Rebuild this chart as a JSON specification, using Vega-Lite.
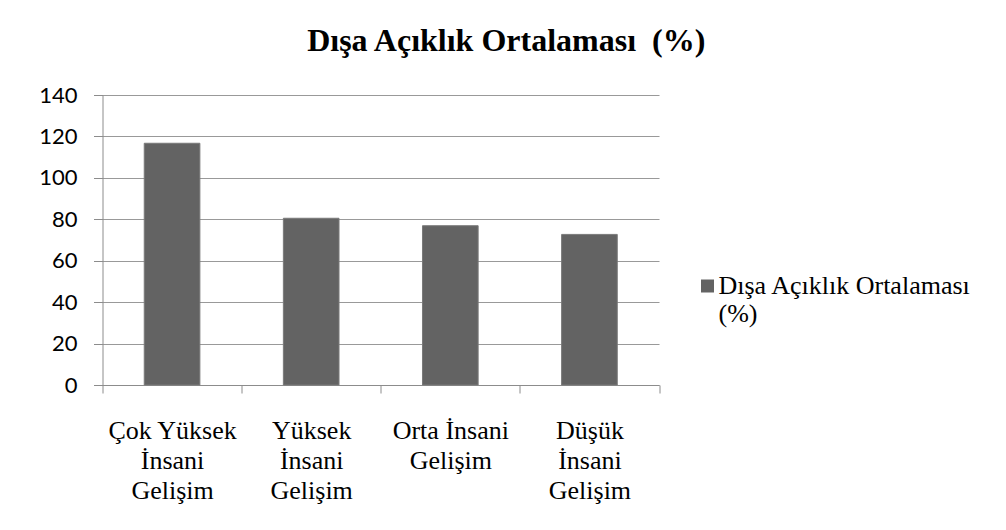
{
  "$schema": "https://vega.github.io/schema/vega-lite/v6.json",
  "autosize": "none",
  "width": 556.5,
  "height": 290,
  "padding": {"left": 102.5, "top": 95, "right": 347, "bottom": 145},
  "background": "white",
  "title": {
    "text": "Dışa Açıklık Ortalaması \u00a0(%)",
    "font": "Liberation Serif, Times New Roman, serif",
    "fontSize": 32,
    "fontWeight": "bold",
    "color": "black",
    "anchor": "middle",
    "frame": "group",
    "dx": 125.5,
    "baseline": "alphabetic",
    "offset": 1
  },
  "data": {
    "values": [
      {"grup": "Çok Yüksek İnsani Gelişim", "deger": 116.7, "seri": "Dışa Açıklık Ortalaması (%)"},
      {"grup": "Yüksek İnsani Gelişim", "deger": 80.5, "seri": "Dışa Açıklık Ortalaması (%)"},
      {"grup": "Orta İnsani Gelişim", "deger": 76.9, "seri": "Dışa Açıklık Ortalaması (%)"},
      {"grup": "Düşük İnsani Gelişim", "deger": 72.7, "seri": "Dışa Açıklık Ortalaması (%)"}
    ]
  },
  "mark": {"type": "bar", "stroke": "#7a7a7a", "strokeWidth": 1, "width": {"band": 0.4}},
  "encoding": {
    "x": {
      "field": "grup",
      "type": "nominal",
      "sort": null,
      "scale": {"paddingInner": 0, "paddingOuter": 0},
      "axis": {
        "title": null,
        "labelAngle": 0,
        "labelFont": "Liberation Serif, Times New Roman, serif",
        "labelFontSize": 26,
        "labelColor": "black",
        "labelLineHeight": 30,
        "labelPadding": 24,
        "labelLimit": 400,
        "labelExpr": "datum.label == '' ? '' : datum.label == 'Orta İnsani Gelişim' ? ['Orta İnsani', 'Gelişim'] : [replace(datum.label, ' İnsani Gelişim', ''), 'İnsani', 'Gelişim']",
        "tickBand": "extent",
        "tickSize": 8,
        "tickColor": "#8c8c8c",
        "domainColor": "#8c8c8c",
        "grid": false
      }
    },
    "y": {
      "field": "deger",
      "type": "quantitative",
      "scale": {"domain": [0, 140], "nice": false},
      "axis": {
        "title": null,
        "values": [0, 20, 40, 60, 80, 100, 120, 140],
        "labelFont": "Lato",
        "labelFontSize": 22,
        "labelColor": "black",
        "labelPadding": 16.5,
        "tickSize": 9,
        "tickColor": "#8c8c8c",
        "domainColor": "#8c8c8c",
        "grid": true,
        "gridColor": "#999999",
        "gridWidth": 1
      }
    },
    "color": {
      "field": "seri",
      "type": "nominal",
      "scale": {"range": ["#636363"]},
      "legend": {
        "orient": "none",
        "legendX": 592,
        "legendY": 178,
        "title": null,
        "padding": 0,
        "symbolType": "square",
        "symbolSize": 169,
        "symbolStrokeWidth": 0,
        "labelFont": "Liberation Serif, Times New Roman, serif",
        "labelFontSize": 26,
        "labelColor": "black",
        "labelOffset": -2,
        "labelLimit": 400,
        "labelExpr": "[replace(datum.label, ' (%)', ''), '(%)']",
        "encode": {"labels": {"update": {"lineHeight": {"value": 30}}}}
      }
    }
  },
  "config": {"view": {"stroke": null}}
}
